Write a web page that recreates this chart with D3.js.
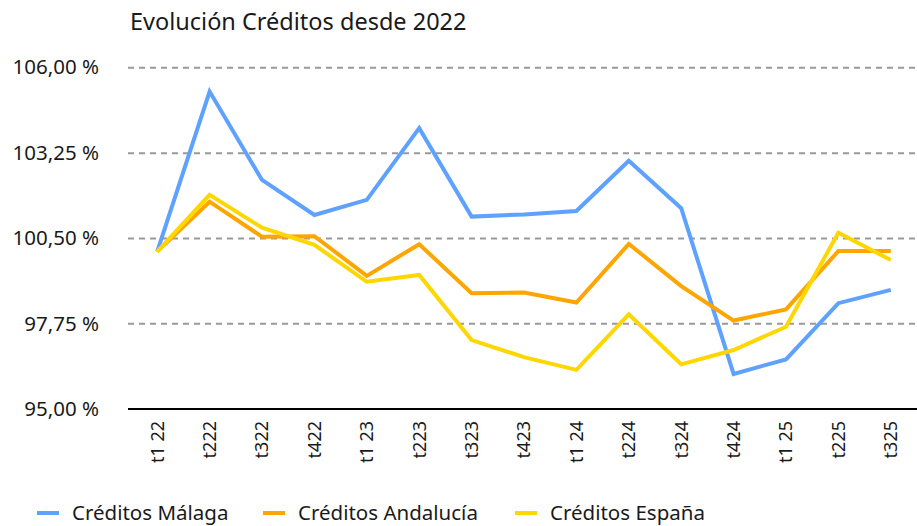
<!DOCTYPE html>
<html><head><meta charset="utf-8">
<script src="https://cdn.jsdelivr.net/npm/d3@7"></script>
<style>body{margin:0;background:#fff}svg{display:block}text{font-family:"Noto Sans",sans-serif;fill:#1a1a1a}</style>
</head><body><svg id="c" width="917" height="526"></svg>
<script>
const categories = ["t1 22","t222","t322","t422","t1 23","t223","t323","t423","t1 24","t224","t324","t424","t1 25","t225","t325"];
const malaga    = [100.06,105.22,102.37,101.24,101.73,104.04,101.19,101.26,101.37,102.99,101.46,96.12,96.59,98.40,98.83];
const andalucia = [100.06,101.67,100.54,100.56,99.28,100.30,98.72,98.74,98.42,100.31,98.95,97.84,98.20,100.08,100.08];
const espana    = [100.06,101.89,100.83,100.28,99.09,99.31,97.21,96.66,96.25,98.04,96.43,96.89,97.64,100.67,99.79];
const yTicks = [95,97.75,100.5,103.25,106];
const seriesNames = ["Créditos Málaga","Créditos Andalucía","Créditos España"];
const colors = ["#5ea1ff","#ffa500","#ffd700"];
const title = "Evolución Créditos desde 2022";

const svg = d3.select("#c");
const x = d3.scaleBand().domain(categories).range([131,917]);
const y = d3.scaleLinear().domain([95,106]).range([408.7,67.3]);
const fmt = v => v.toFixed(2).replace(".", ",") + " %";

svg.append("text").attr("x",130).attr("y",29.5).attr("font-size",23.5).text(title);

const gy = svg.append("g").attr("transform","translate(128,0)")
  .call(d3.axisRight(y).tickValues(yTicks.slice(1)).tickSize(789).tickFormat(""));
gy.select(".domain").remove();
gy.selectAll("line").attr("stroke","#999").attr("stroke-width",2).attr("stroke-dasharray","6,5");

svg.append("g")
  .selectAll("text").data(yTicks).join("text")
  .attr("x",99).attr("y",d=>y(d)).attr("dy","0.35em").attr("text-anchor","end")
  .attr("font-size",20.5).text(fmt);

const gx = svg.append("g").attr("transform","translate(0,409)")
  .call(d3.axisBottom(x).tickSize(0).tickPadding(0));
gx.select(".domain").attr("d","M128,0H917").attr("stroke","#000").attr("stroke-width",2);
gx.selectAll(".tick text").attr("font-size",18).attr("font-family","'Noto Sans',sans-serif").attr("fill","#1a1a1a")
  .attr("transform","rotate(-90)").attr("text-anchor","end").attr("x",-12).attr("y",0).attr("dy","0.35em");

const line = d3.line().x((d,i)=>x(categories[i])+x.bandwidth()/2).y(d=>y(d));
[malaga,andalucia,espana].forEach((s,i)=>{
  svg.append("path").datum(s).attr("d",line).attr("fill","none")
    .attr("stroke",colors[i]).attr("stroke-width",4).attr("stroke-linejoin","miter");
});
const legX = [37,263,515];
seriesNames.forEach((n,i)=>{
  svg.append("line").attr("x1",legX[i]).attr("x2",legX[i]+22).attr("y1",513).attr("y2",513)
    .attr("stroke",colors[i]).attr("stroke-width",4);
  svg.append("text").attr("x",legX[i]+35).attr("y",513).attr("dy","0.35em").attr("font-size",20.5).text(n);
});
</script></body></html>
